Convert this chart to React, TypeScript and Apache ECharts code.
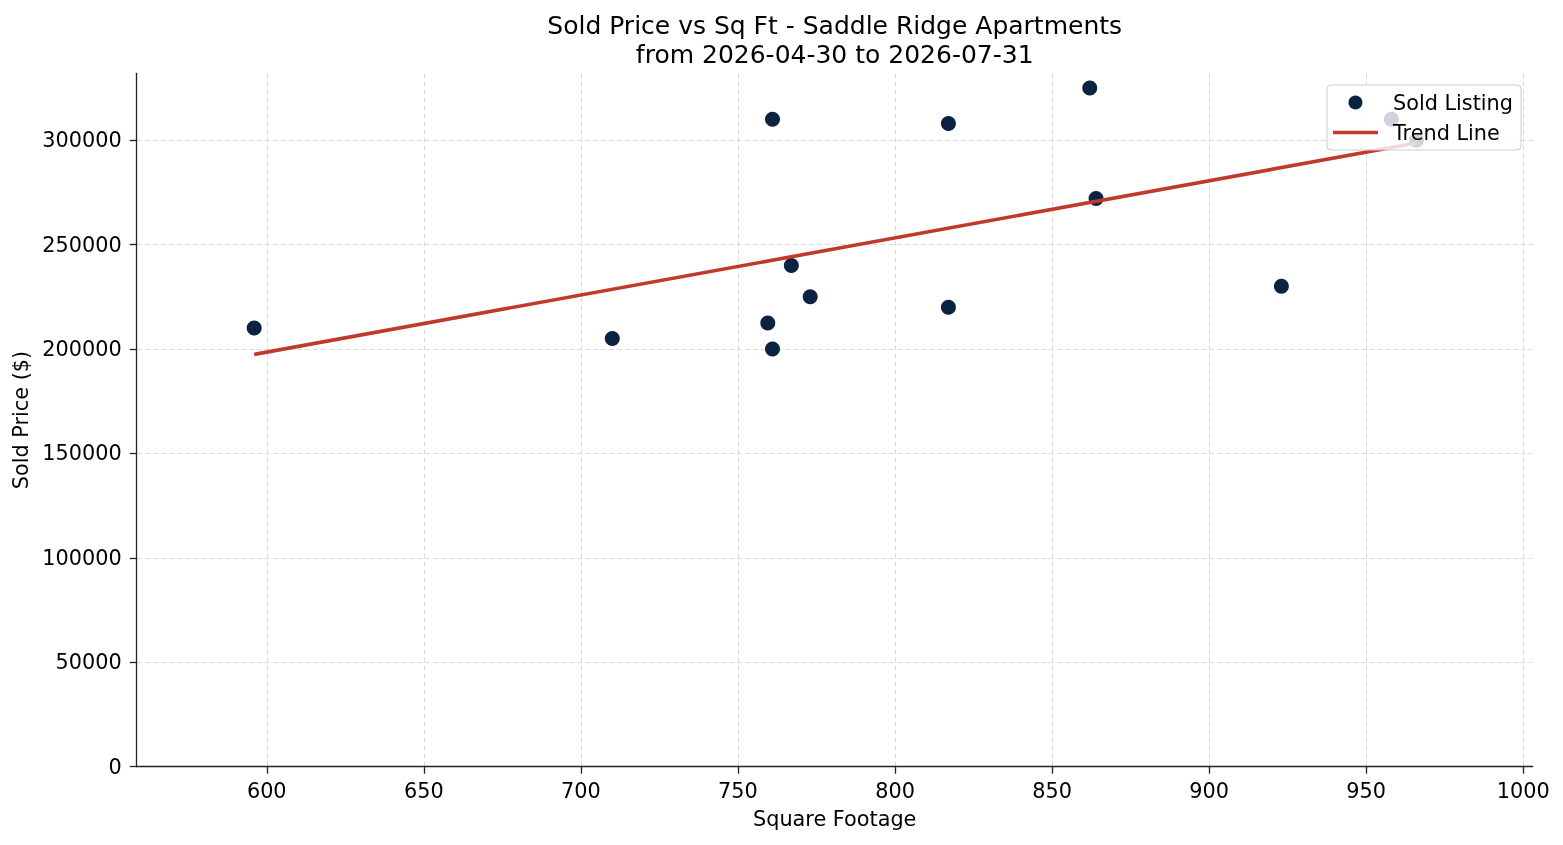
import * as echarts from 'echarts'
import { useEffect, useRef } from 'react'

const sqft = [596, 710, 759.5, 761, 761, 767, 773, 817, 817, 862, 864, 923, 958, 966]
const soldPrice = [
  210000, 205000, 212500, 200000, 310000, 240000, 225000, 220000, 308000, 325000, 272000, 230000, 310000,
  300000,
]
// 回归线两端
const trendX = [596, 966]
const trendY = [197400, 298600]

const xTicks = [600, 650, 700, 750, 800, 850, 900, 950, 1000]
const yTicks = [0, 50000, 100000, 150000, 200000, 250000, 300000]

const FONT = '"DejaVu Sans", sans-serif'

export default function App() {
  const ref = useRef<HTMLDivElement>(null)

  useEffect(() => {
    if (!ref.current) return
    const chart = echarts.init(ref.current, null, { renderer: 'svg' })

    const axisLine = { show: true, lineStyle: { color: '#222222', width: 1.3 } }
    const tick = { show: true, inside: false, length: 7, lineStyle: { color: '#222222', width: 1.3 } }
    const grid = { show: true, lineStyle: { color: '#d6d6d6', width: 0.9, type: [5, 3] } }
    const label = { fontFamily: FONT, fontSize: 20.8, color: '#000' }

    chart.setOption({
      animation: false,
      textStyle: { fontFamily: FONT, color: '#000' },
      title: {
        text: 'Sold Price vs Sq Ft - Saddle Ridge Apartments\nfrom 2026-04-30 to 2026-07-31',
        left: 834.7,
        top: 11,
        padding: 0,
        textAlign: 'center',
        textStyle: { fontFamily: FONT, fontSize: 25, fontWeight: 'normal', lineHeight: 29, color: '#000' },
      },
      legend: {
        orient: 'vertical',
        right: 42,
        top: 85,
        padding: [7, 8, 7, 6],
        itemGap: 9,
        itemWidth: 45,
        itemHeight: 14,
        align: 'left',
        backgroundColor: 'rgba(255,255,255,0.8)',
        borderColor: '#cccccc',
        borderWidth: 1,
        borderRadius: 4,
        textStyle: { ...label, padding: [0, 0, 0, 10] },
        data: [
          { name: 'Sold Listing', icon: 'circle' },
          { name: 'Trend Line', icon: 'path://M0,0H45V3.5H0Z' },
        ],
      },
      grid: { left: 136.7, right: 30.3, top: 73.3, bottom: 78.3, outerBoundsMode: 'none', containLabel: false },
      xAxis: {
        type: 'value',
        min: 558.6,
        max: 1003,
        name: 'Square Footage',
        nameLocation: 'middle',
        nameGap: 42,
        nameTextStyle: label,
        axisLine,
        axisTick: { ...tick, customValues: xTicks },
        axisLabel: { ...label, customValues: xTicks, margin: 14, formatter: (v: number) => String(v) },
        splitLine: grid,
      },
      yAxis: {
        type: 'value',
        min: 0,
        max: 332000,
        name: 'Sold Price ($)',
        nameLocation: 'middle',
        nameGap: 98,
        nameTextStyle: label,
        axisLine,
        axisTick: { ...tick, customValues: yTicks },
        axisLabel: { ...label, customValues: yTicks, margin: 15, formatter: (v: number) => String(v) },
        splitLine: grid,
      },
      series: [
        {
          name: 'Sold Listing',
          type: 'scatter',
          data: sqft.map((x, i) => [x, soldPrice[i]]),
          symbol: 'circle',
          symbolSize: 15,
          itemStyle: { color: '#0b2240', opacity: 1 },
          z: 2,
        },
        {
          name: 'Trend Line',
          type: 'line',
          data: trendX.map((x, i) => [x, trendY[i]]),
          symbol: 'none',
          showSymbol: false,
          lineStyle: { color: '#c0392b', width: 3.6 },
          itemStyle: { color: '#c0392b' },
          z: 3,
        },
      ],
    })

    return () => chart.dispose()
  }, [])

  return <div ref={ref} style={{ position: 'fixed', left: 0, top: 0, width: 1563, height: 845 }} />
}
